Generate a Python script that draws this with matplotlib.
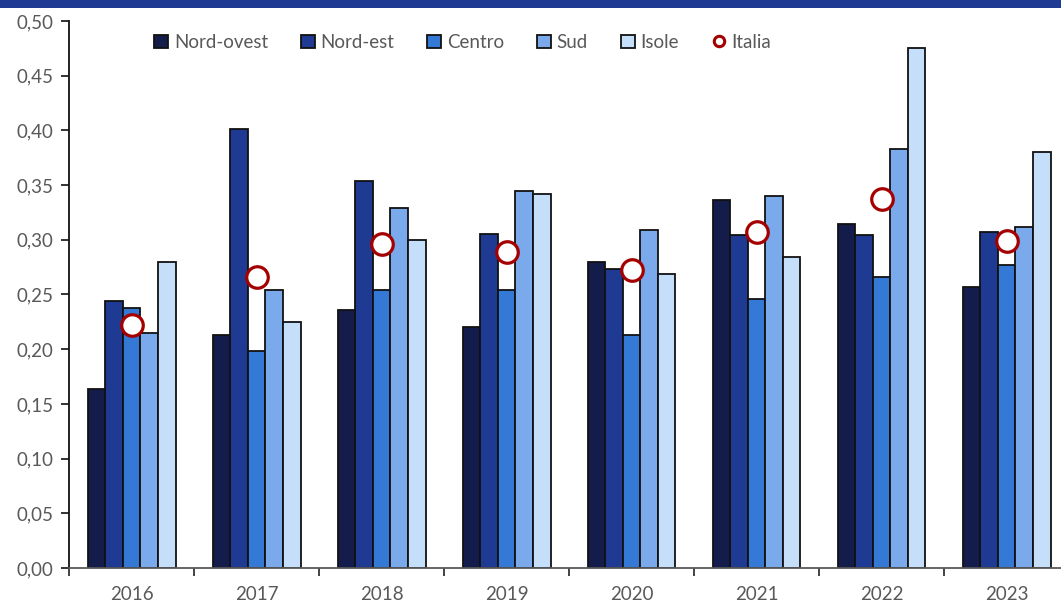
import matplotlib
matplotlib.use("Agg")
import matplotlib.pyplot as plt
from matplotlib.patches import Rectangle
from matplotlib.lines import Line2D
from matplotlib.ticker import FuncFormatter, MultipleLocator
import numpy as np

# Data
years = ["2016", "2017", "2018", "2019", "2020", "2021", "2022", "2023"]
nord_ovest = [0.164, 0.213, 0.236, 0.220, 0.280, 0.336, 0.314, 0.257]
nord_est   = [0.244, 0.401, 0.354, 0.305, 0.273, 0.304, 0.304, 0.307]
centro     = [0.238, 0.198, 0.254, 0.254, 0.213, 0.246, 0.266, 0.277]
sud        = [0.215, 0.254, 0.329, 0.345, 0.309, 0.340, 0.383, 0.312]
isole      = [0.280, 0.225, 0.300, 0.342, 0.269, 0.284, 0.475, 0.380]
italia     = [0.222, 0.266, 0.296, 0.289, 0.272, 0.307, 0.337, 0.299]

series = [
    ("Nord-ovest", nord_ovest, "#141c4b"),
    ("Nord-est", nord_est, "#1f3a93"),
    ("Centro", centro, "#3579d7"),
    ("Sud", sud, "#7aaaeb"),
    ("Isole", isole, "#c5dffb"),
]

plt.rcParams["font.family"] = ["Lato", "DejaVu Sans"]
text_col = "#595959"
red = "#a50000"

fig = plt.figure(figsize=(10.61, 6.04), dpi=100)
W, H = 1061, 604
ax = fig.add_axes([69 / W, 36 / H, 1000 / W, 547 / H])

# top banner
fig.patches.append(Rectangle((0, 1 - 8 / H), 1, 8 / H, transform=fig.transFigure,
                             facecolor="#1f3a93", edgecolor="none", zorder=0))

x = np.arange(len(years))
bw = 0.1408
handles = []
for i, (name, vals, col) in enumerate(series):
    bars = ax.bar(x + (i - 2) * bw, vals, width=bw, color=col, edgecolor="#111111",
                  linewidth=1.3, label=name, zorder=2)
    handles.append(bars)

ax.plot(x, italia, linestyle="none", marker="o", markersize=15.5,
        markerfacecolor="white", markeredgecolor=red, markeredgewidth=2.3,
        zorder=3)
handles.append(Line2D([], [], linestyle="none", marker="o", markersize=7.5,
                      markerfacecolor="white", markeredgecolor=red,
                      markeredgewidth=2.2, label="Italia"))

ax.set_xlim(-0.5, len(years) - 0.5)
ax.set_ylim(0, 0.5)
ax.yaxis.set_major_locator(MultipleLocator(0.05))
ax.yaxis.set_major_formatter(FuncFormatter(lambda v, p: f"{v:.2f}".replace(".", ",")))

ax.set_xticks(x)
ax.set_xticklabels(years)
ax.set_xticks(np.arange(len(years) + 1) - 0.5, minor=True)
ax.tick_params(axis="x", which="major", length=0, pad=13, labelsize=13.5, labelcolor=text_col)
ax.tick_params(axis="x", which="minor", length=6, width=1.2, color="#222222", direction="out")
ax.tick_params(axis="y", length=6, width=1.2, color="#111111", direction="out",
               pad=5, labelsize=13.5, labelcolor=text_col)

for s in ["top", "right"]:
    ax.spines[s].set_visible(False)
ax.spines["left"].set_color("#111111")
ax.spines["left"].set_linewidth(1.3)
ax.spines["bottom"].set_color("#595959")
ax.spines["bottom"].set_linewidth(1.3)

leg = ax.legend(handles=handles, loc="upper left", bbox_to_anchor=(0.072, 1.0), ncol=6,
                frameon=False, fontsize=13.5, labelcolor=text_col, handlelength=0.75,
                handleheight=0.75, handletextpad=0.3, columnspacing=1.75, borderaxespad=0.3)

fig.savefig("out.png", dpi=100)
